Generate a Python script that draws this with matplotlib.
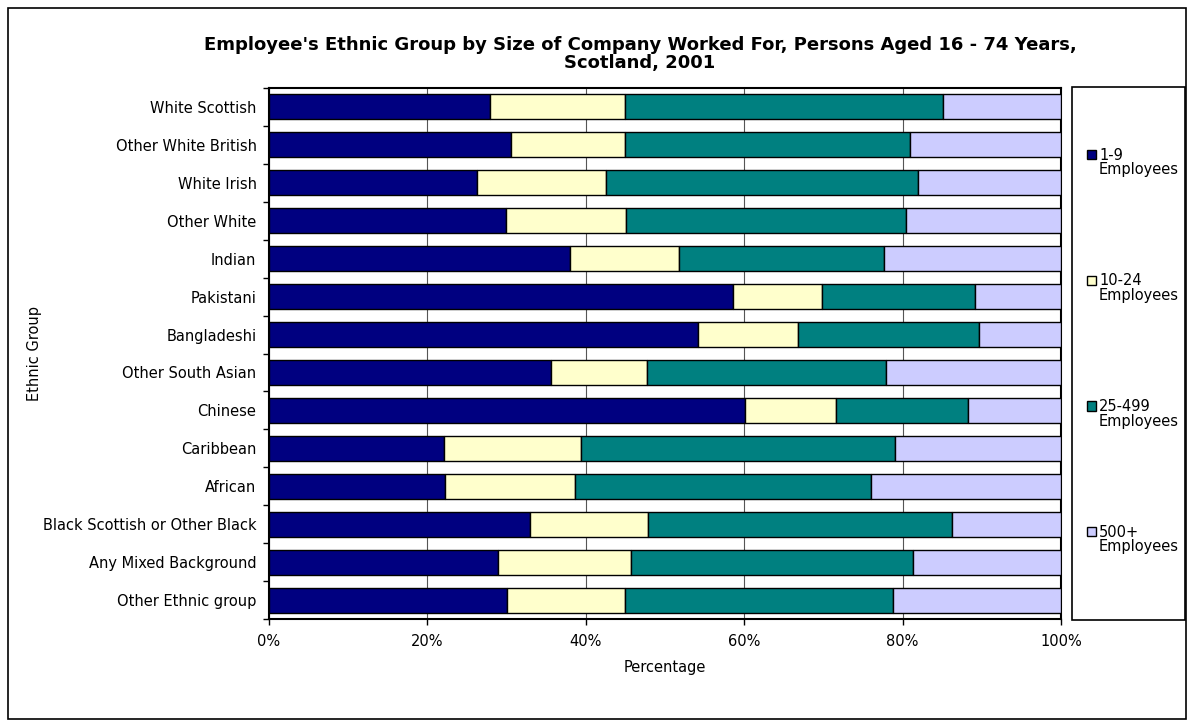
import matplotlib
matplotlib.use("Agg")
import matplotlib.pyplot as plt
from matplotlib.patches import Rectangle, Patch
from matplotlib.legend_handler import HandlerPatch
import numpy as np

plt.rcParams['font.family'] = ['DejaVu Sans']

categories = ["White Scottish", "Other White British", "White Irish", "Other White",
              "Indian", "Pakistani", "Bangladeshi", "Other South Asian", "Chinese",
              "Caribbean", "African", "Black Scottish or Other Black",
              "Any Mixed Background", "Other Ethnic group"]

emp_1_9 = [27.9, 30.5, 26.2, 29.9, 38.0, 58.6, 54.2, 35.6, 60.1, 22.1, 22.2, 32.9, 28.9, 30.1]
emp_10_24 = [17.0, 14.5, 16.4, 15.2, 13.8, 11.2, 12.6, 12.1, 11.5, 17.3, 16.4, 14.9, 16.8, 14.8]
emp_25_499 = [40.2, 35.9, 39.4, 35.3, 25.9, 19.4, 22.9, 30.2, 16.6, 39.6, 37.4, 38.4, 35.6, 33.9]
emp_500 = [14.9, 19.1, 18.0, 19.6, 22.3, 10.8, 10.3, 22.1, 11.8, 21.0, 24.0, 13.8, 18.7, 21.2]

series_names = ["1-9\nEmployees", "10-24\nEmployees", "25-499\nEmployees", "500+\nEmployees"]
series_colors = ["#000080", "#FFFFCC", "#008080", "#CCCCFF"]
xticks = [0, 20, 40, 60, 80, 100]
xtick_labels = ["0%", "20%", "40%", "60%", "80%", "100%"]

FS = 10.5
W, H = 1192, 727
fig = plt.figure(figsize=(W / 100, H / 100), dpi=100)

# outer border
fig.patches.append(Rectangle((8 / W, 1 - 719 / H), 1178 / W, 711 / H, transform=fig.transFigure,
                             fill=False, edgecolor="black", linewidth=1.2))

ax = fig.add_axes([269 / W, 1 - 619 / H, 792 / W, 531 / H])

data = [emp_1_9, emp_10_24, emp_25_499, emp_500]
y = np.arange(len(categories))
left = np.zeros(len(categories))
for vals, col in zip(data, series_colors):
    v = np.array(vals, dtype=float)
    ax.barh(y, v, left=left, height=0.66, color=col, edgecolor="black", linewidth=1.0, zorder=3)
    left += v

ax.set_xlim(0, 100)
ax.set_ylim(len(categories) - 0.5, -0.5)
ax.set_xticks(xticks)
ax.set_xticklabels(xtick_labels, fontsize=FS)
ax.set_yticks(y)
ax.set_yticklabels(categories, fontsize=FS)
ax.tick_params(axis="y", length=0, pad=9)
ax.set_yticks(np.arange(-0.5, len(categories), 1.0), minor=True)
ax.tick_params(axis="y", which="minor", length=4, width=1, direction="out")
ax.tick_params(axis="x", length=4, width=1, direction="out", pad=7)
ax.xaxis.grid(True, color="#555555", linewidth=0.8, zorder=0)
for s in ax.spines.values():
    s.set_linewidth(1.5)
    s.set_color("black")

ax.set_xlabel("Percentage", fontsize=FS, labelpad=8)
ax.set_ylabel("Ethnic Group", fontsize=FS)
ax.yaxis.set_label_coords(-0.287, 0.5)

fig.text(640 / W, 1 - 54 / H,
         "Employee's Ethnic Group by Size of Company Worked For, Persons Aged 16 - 74 Years,\nScotland, 2001",
         ha="center", va="center", fontsize=13, fontweight="bold", linespacing=0.95)

# legend box
fig.patches.append(Rectangle((1072 / W, 1 - 620 / H), 113 / W, 533 / H, transform=fig.transFigure,
                             fill=False, edgecolor="black", linewidth=1.2))


def top_patch(legend, orig_handle, xdescent, ydescent, width, height, fontsize):
    return Rectangle((-xdescent, -ydescent + 0.6 * fontsize), width, height)


handles = [Patch(facecolor=c, edgecolor="black", linewidth=1.0) for c in series_colors]
leg = fig.legend(handles, series_names, loc="center left", bbox_to_anchor=(1080 / W, 1 - 351 / H),
                 frameon=False, fontsize=FS, handlelength=0.6, handleheight=0.6,
                 handletextpad=0.2, labelspacing=6.6, borderpad=0,
                 handler_map={Patch: HandlerPatch(patch_func=top_patch)})
for t in leg.get_texts():
    t.set_linespacing(0.95)

fig.savefig("out.png", dpi=100)
